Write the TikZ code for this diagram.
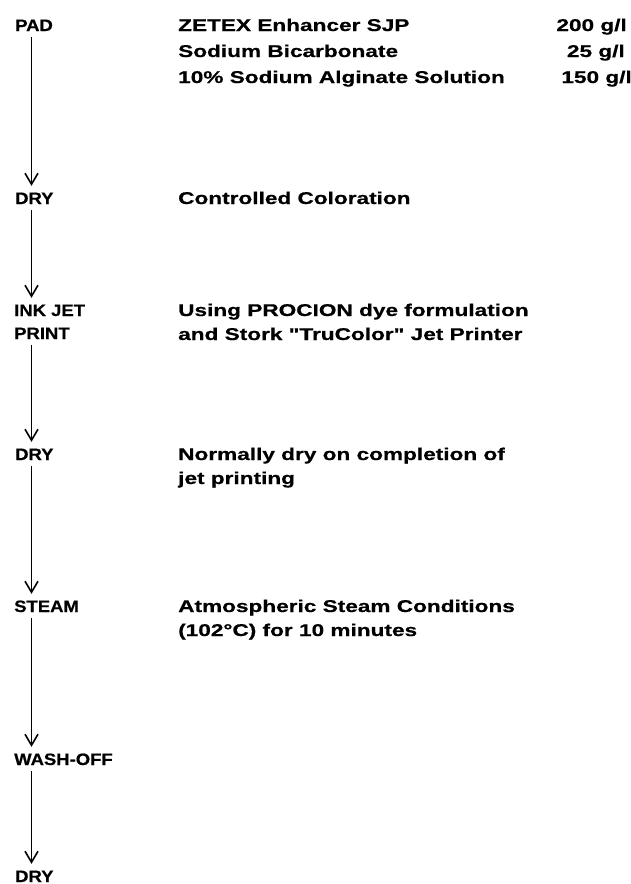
\documentclass[tikz,border=0pt]{standalone}
\usepackage{fontspec}
\newfontfamily\labfont{Liberation Sans}[FakeStretch=1.12, FakeBold=0.6]
\newfontfamily\txtfont{Liberation Sans}[FakeStretch=1.33, FakeBold=0.6]
\usetikzlibrary{arrows.meta}
\tikzset{
  stage/.style={anchor=base west, inner xsep=0pt, inner ysep=6pt, text height=12pt, text depth=0pt, font=\labfont\bfseries\fontsize{16.5}{19}\selectfont},
  info/.style={anchor=base west, inner sep=0pt, font=\txtfont\bfseries\fontsize{17}{20}\selectfont},
  qty/.style={anchor=base east, inner sep=0pt, font=\txtfont\bfseries\fontsize{17}{20}\selectfont},
  flow/.style={line width=0.8pt, -{Straight Barb[length=11pt, width=13pt, line width=1.6pt]}}
}
\begin{document}
\begin{tikzpicture}[x=1pt, y=-1pt]
\path[use as bounding box, fill=white] (0,0) rectangle (630,884);
\coordinate (xl) at (31.5,0);
% stages
\node[stage] (pad) at (15,31) {PAD};
\node[stage] (dry1) at (15,204) {DRY};
\node[stage] (ink) at (14,316) {INK JET};
\node[stage] (print) at (14,339) {PRINT};
\node[stage] (dry2) at (15,460) {DRY};
\node[stage] (steam) at (14,612) {STEAM};
\node[stage] (wash) at (14,765) {WASH-OFF};
\node[stage] (dry3) at (15,882) {DRY};
% arrows
\draw[flow] (pad.south -| xl) -- (dry1.north -| xl);
\draw[flow] (dry1.south -| xl) -- (ink.north -| xl);
\draw[flow] (print.south -| xl) -- (dry2.north -| xl);
\draw[flow] (dry2.south -| xl) -- (steam.north -| xl);
\draw[flow] (steam.south -| xl) -- (wash.north -| xl);
\draw[flow] (wash.south -| xl) -- (dry3.north -| xl);
% descriptions
\node[info] (z1) at (178,31) {ZETEX Enhancer SJP};
\node[info] (z2) at (178,57) {Sodium Bicarbonate};
\node[info] (z3) at (178,83) {10\% Sodium Alginate Solution};
\node[qty] (q1) at (627,31) {200 g/l};
\node[qty] (q2) at (625,57) {25 g/l};
\node[qty] (q3) at (632,83) {150 g/l};
\node[info] (c1) at (178,204) {Controlled Coloration};
\node[info] (u1) at (178,316) {Using PROCION dye formulation};
\node[info] (u2) at (178,340) {and Stork "TruColor" Jet Printer};
\node[info] (n1) at (178,460) {Normally dry on completion of};
\node[info] (n2) at (178,484) {jet printing};
\node[info] (a1) at (178,612) {Atmospheric Steam Conditions};
\node[info] (a2) at (178,636) {(102°C) for 10 minutes};
\end{tikzpicture}
\end{document}
